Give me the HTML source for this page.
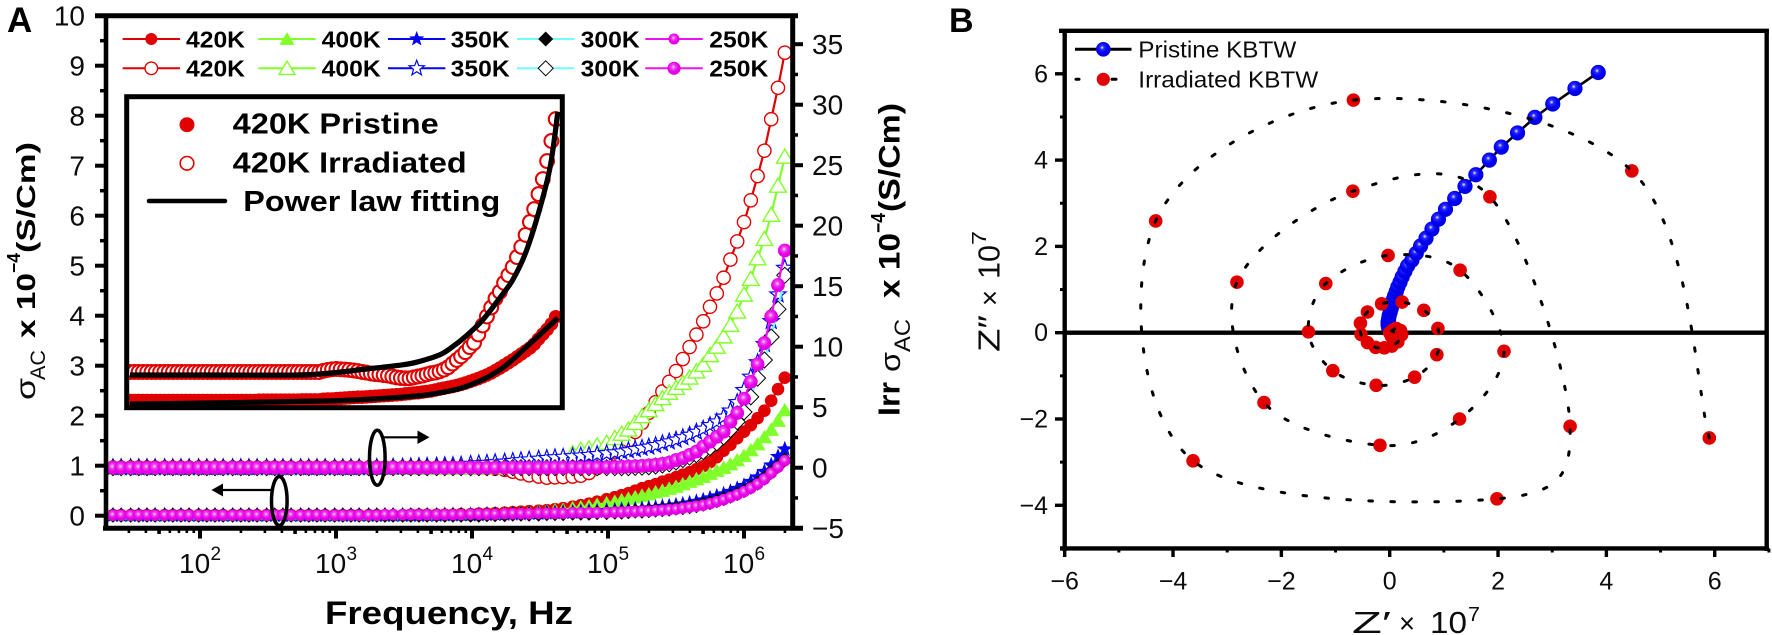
<!DOCTYPE html>
<html lang="en">
<head>
<meta charset="utf-8">
<title>AC conductivity and impedance of pristine and irradiated KBTW</title>
<style>
  html, body { margin: 0; padding: 0; background: #fff; }
  svg { display: block; }
  text { font-family: "Liberation Sans", sans-serif; fill: #0c0c0c; }
  .b { font-weight: 700; fill: #000; }
</style>
</head>
<body>
<svg id="figure" xmlns="http://www.w3.org/2000/svg" width="1772" height="635" viewBox="0 0 1772 635">
  <defs>
    <radialGradient id="sphere-magenta" cx="0.45" cy="0.4" r="0.55">
      <stop offset="0" stop-color="#fbe0fb"/><stop offset="0.3" stop-color="#f040f0"/><stop offset="0.7" stop-color="#e600e6"/><stop offset="1" stop-color="#e000e0"/>
    </radialGradient>
    <radialGradient id="sphere-blue" cx="0.42" cy="0.38" r="0.55">
      <stop offset="0" stop-color="#f0f0ff"/><stop offset="0.25" stop-color="#2a2aff"/><stop offset="0.65" stop-color="#0000f5"/><stop offset="1" stop-color="#0000e0"/>
    </radialGradient>
    <clipPath id="inset-clip"><rect x="127" y="97" width="435" height="310"/></clipPath>
  </defs>
  <rect width="1772" height="635" fill="#fff"/>

  <g id="panel-a">
    <g id="a-series"></g>
    <g id="a-axes"></g>
    <g id="a-legend">
      <text class="b" x="186" y="47.5" font-size="23" textLength="59" lengthAdjust="spacingAndGlyphs">420K</text>
      <text class="b" x="321.7" y="47.5" font-size="23" textLength="59" lengthAdjust="spacingAndGlyphs">400K</text>
      <text class="b" x="450.7" y="47.5" font-size="23" textLength="59" lengthAdjust="spacingAndGlyphs">350K</text>
      <text class="b" x="580.7" y="47.5" font-size="23" textLength="59" lengthAdjust="spacingAndGlyphs">300K</text>
      <text class="b" x="709.3" y="47.5" font-size="23" textLength="59" lengthAdjust="spacingAndGlyphs">250K</text>
      <text class="b" x="186" y="76.5" font-size="23" textLength="59" lengthAdjust="spacingAndGlyphs">420K</text>
      <text class="b" x="321.7" y="76.5" font-size="23" textLength="59" lengthAdjust="spacingAndGlyphs">400K</text>
      <text class="b" x="450.7" y="76.5" font-size="23" textLength="59" lengthAdjust="spacingAndGlyphs">350K</text>
      <text class="b" x="580.7" y="76.5" font-size="23" textLength="59" lengthAdjust="spacingAndGlyphs">300K</text>
      <text class="b" x="709.3" y="76.5" font-size="23" textLength="59" lengthAdjust="spacingAndGlyphs">250K</text>
    </g>

    <g>
      <rect x="127" y="97" width="435" height="310" fill="#fff"/>
      <g id="inset-series" clip-path="url(#inset-clip)"></g>
      <rect x="126.7" y="96.7" width="435.6" height="311" fill="none" stroke="#000" stroke-width="5"/>
      <circle cx="187" cy="124.7" r="7.5" fill="#e00000"/>
      <circle cx="187" cy="163.3" r="6.8" fill="#fff" stroke="#e00000" stroke-width="1.6"/>
      <line x1="149" y1="201" x2="225" y2="201" stroke="#000" stroke-width="4.5" stroke-linecap="round"/>
      <text class="b" x="232.7" y="133.5" font-size="29" textLength="206" lengthAdjust="spacingAndGlyphs">420K Pristine</text>
      <text class="b" x="232.7" y="172.3" font-size="29" textLength="234" lengthAdjust="spacingAndGlyphs">420K Irradiated</text>
      <text class="b" x="243.3" y="211" font-size="29" textLength="257" lengthAdjust="spacingAndGlyphs">Power law fitting</text>
    </g>

    <g>
      <ellipse cx="377.3" cy="457.7" rx="7.8" ry="27.5" fill="none" stroke="#000" stroke-width="3.5"/>
      <line x1="383" y1="437.3" x2="420" y2="437.3" stroke="#000" stroke-width="2.2"/>
      <polygon points="417.5,430.5 429.5,437.3 417.5,444" fill="#000"/>
    </g>
    <g>
      <ellipse cx="279.3" cy="501" rx="7.8" ry="24.5" fill="none" stroke="#000" stroke-width="3.5"/>
      <line x1="271" y1="490" x2="221" y2="490" stroke="#000" stroke-width="2.2"/>
      <polygon points="223,483.5 211.5,490 223,496.5" fill="#000"/>
    </g>

    <text class="b" x="7" y="32" font-size="35">A</text>

    <g>
      <text transform="translate(35,400) rotate(-90)" font-size="28" textLength="22" lengthAdjust="spacingAndGlyphs">σ</text>
      <text transform="translate(45,380) rotate(-90)" font-size="21" textLength="30" lengthAdjust="spacingAndGlyphs">AC</text>
      <text class="b" transform="translate(35,338) rotate(-90)" font-size="26" textLength="65" lengthAdjust="spacingAndGlyphs">x 10</text>
      <text class="b" transform="translate(20,273) rotate(-90)" font-size="18" textLength="20" lengthAdjust="spacingAndGlyphs">−4</text>
      <text class="b" transform="translate(35,253) rotate(-90)" font-size="26" textLength="111" lengthAdjust="spacingAndGlyphs">(S/Cm)</text>
    </g>
    <g>
      <text class="b" transform="translate(899.3,416) rotate(-90)" font-size="31" textLength="34" lengthAdjust="spacingAndGlyphs">Irr</text>
      <text transform="translate(900,372) rotate(-90)" font-size="29" textLength="20" lengthAdjust="spacingAndGlyphs">σ</text>
      <text transform="translate(910,352) rotate(-90)" font-size="22" textLength="33" lengthAdjust="spacingAndGlyphs">AC</text>
      <text class="b" transform="translate(899.3,298) rotate(-90)" font-size="30" textLength="65" lengthAdjust="spacingAndGlyphs">x 10</text>
      <text class="b" transform="translate(885,233) rotate(-90)" font-size="20" textLength="20" lengthAdjust="spacingAndGlyphs">−4</text>
      <text class="b" transform="translate(899.3,212) rotate(-90)" font-size="30" textLength="109" lengthAdjust="spacingAndGlyphs">(S/Cm)</text>
    </g>
    <text class="b" x="325" y="624" font-size="32" textLength="248" lengthAdjust="spacingAndGlyphs">Frequency, Hz</text>
  </g>

  <g id="panel-b">
    <text class="b" x="949" y="32" font-size="34">B</text>
    <g id="b-series"></g>
    <g id="b-axes"></g>
    <g>
      <line x1="1075" y1="49.3" x2="1131.5" y2="49.3" stroke="#000" stroke-width="3"/>
      <circle cx="1103.3" cy="49.3" r="7.3" fill="url(#sphere-blue)"/>
      <text x="1138.3" y="57.5" font-size="23" textLength="158" lengthAdjust="spacingAndGlyphs">Pristine KBTW</text>
      <line x1="1076" y1="79.3" x2="1079" y2="79.3" stroke="#000" stroke-width="3" stroke-linecap="round"/>
      <line x1="1112" y1="79.3" x2="1116" y2="79.3" stroke="#000" stroke-width="3" stroke-linecap="round"/>
      <circle cx="1103.3" cy="79.3" r="6.6" fill="#e00000"/>
      <text x="1138.3" y="87.5" font-size="23" textLength="180" lengthAdjust="spacingAndGlyphs">Irradiated KBTW</text>
    </g>
    <g>
      <text transform="translate(999.5,352) rotate(-90)" font-size="31" textLength="37" lengthAdjust="spacingAndGlyphs">Z″</text>
      <text transform="translate(999.5,306) rotate(-90)" font-size="29" textLength="16" lengthAdjust="spacingAndGlyphs">×</text>
      <text transform="translate(999.5,279) rotate(-90)" font-size="31" textLength="34" lengthAdjust="spacingAndGlyphs">10</text>
      <text transform="translate(986,245) rotate(-90)" font-size="20" textLength="14" lengthAdjust="spacingAndGlyphs">7</text>
    </g>
    <g>
      <text x="1352" y="633" font-size="31" textLength="39" lengthAdjust="spacingAndGlyphs">Z′</text>
      <text x="1399" y="633" font-size="29" textLength="16" lengthAdjust="spacingAndGlyphs">×</text>
      <text x="1430" y="633" font-size="31" textLength="37" lengthAdjust="spacingAndGlyphs">10</text>
      <text x="1468" y="621" font-size="20" textLength="12" lengthAdjust="spacingAndGlyphs">7</text>
    </g>
  </g>
</svg>

<script>
// ---------- Panel A data: frequency (log10 Hz) ----------
const logFreq = [
  1.36,1.42,1.49,1.55,1.61,1.67,1.74,1.80,1.86,1.92,1.99,2.05,2.11,2.17,2.24,2.30,2.36,2.42,2.49,2.55,2.61,
  2.67,2.74,2.80,2.86,2.92,2.99,3.05,3.11,3.17,3.24,3.30,3.36,3.42,3.49,3.55,3.61,3.67,3.74,3.80,3.86,3.92,
  3.99,4.05,4.11,4.17,4.24,4.30,4.36,4.42,4.49,4.55,4.61,4.67,4.74,4.80,4.86,4.92,4.99,
  5.05,5.10,5.15,5.20,5.25,5.30,5.35,5.40,5.45,5.50,5.55,5.60,5.65,5.70,5.75,5.80,5.85,5.90,5.95,6.00,6.05,6.10,6.15,6.20,6.25,6.30
];

// Pristine sigma AC (left axis, x 10^-4 S/Cm)
const pristine420K = [
  .01,.01,.01,.01,.01,.01,.01,.01,.01,.01,.01,.01,.01,.01,.01,.01,.01,.01,.01,.01,.01,
  .01,.01,.01,.01,.01,.01,.01,.01,.01,.01,.01,.01,.01,.01,.02,.02,.02,.02,.02,.02,.03,
  .03,.04,.04,.05,.06,.07,.08,.09,.10,.11,.13,.15,.18,.21,.24,.28,.33,
  .37,.41,.45,.50,.55,.59,.63,.68,.72,.77,.82,.87,.93,.99,1.07,1.17,1.30,1.42,1.55,1.68,1.81,1.95,2.10,2.30,2.53,2.76
];
const pristine400K = [
  .01,.01,.01,.01,.01,.01,.01,.01,.01,.01,.01,.01,.01,.01,.01,.01,.01,.01,.01,.01,.01,
  .01,.01,.01,.01,.01,.01,.01,.01,.01,.01,.01,.01,.01,.01,.01,.01,.02,.02,.02,.02,.02,
  .02,.03,.03,.04,.05,.05,.06,.07,.08,.09,.11,.12,.15,.17,.19,.22,.25,
  .28,.31,.34,.37,.40,.43,.47,.50,.54,.58,.63,.68,.73,.78,.84,.90,.96,1.03,1.11,1.20,1.31,1.43,1.57,1.72,1.90,2.11
];
const pristine350K = [
  .01,.01,.01,.01,.01,.01,.01,.01,.01,.01,.01,.01,.01,.01,.01,.01,.01,.01,.01,.01,.01,
  .01,.01,.01,.01,.01,.01,.01,.01,.01,.01,.01,.01,.01,.01,.01,.01,.01,.01,.02,.02,.02,
  .02,.02,.03,.03,.03,.04,.04,.05,.05,.06,.06,.07,.07,.08,.09,.09,.10,
  .11,.12,.12,.13,.14,.15,.16,.18,.19,.21,.23,.25,.28,.31,.35,.39,.43,.48,.54,.60,.68,.77,.88,1.01,1.18,1.33
];
const pristine300K = [
  .01,.01,.01,.01,.01,.01,.01,.01,.01,.01,.01,.01,.01,.01,.01,.01,.01,.01,.01,.01,.01,
  .01,.01,.01,.01,.01,.01,.01,.01,.01,.01,.01,.01,.01,.01,.01,.01,.01,.01,.01,.01,.01,
  .01,.01,.02,.02,.02,.03,.03,.03,.03,.04,.04,.04,.05,.05,.05,.06,.06,
  .07,.07,.08,.09,.09,.10,.11,.12,.13,.15,.16,.18,.20,.23,.26,.30,.34,.39,.44,.50,.57,.65,.75,.87,.99,1.12
];
const pristine250K = [
  .01,.01,.01,.01,.01,.01,.01,.01,.01,.01,.01,.01,.01,.01,.01,.01,.01,.01,.01,.01,.01,
  .01,.01,.01,.01,.01,.01,.01,.01,.01,.01,.01,.02,.02,.02,.02,.02,.02,.02,.02,.02,.02,
  .03,.03,.03,.03,.04,.04,.04,.04,.05,.05,.05,.05,.06,.06,.06,.06,.06,
  .07,.07,.08,.08,.09,.09,.10,.11,.12,.13,.15,.17,.19,.21,.24,.28,.32,.37,.42,.48,.55,.63,.73,.85,.97,1.10
];

// Irradiated sigma AC (right axis, x 10^-4 S/Cm)
const irradiated420K = [
  0,0,0,0,0,0,0,0,0,0,0,0,0,0,0,0,0,0,0,0,0,
  0,0,0,0,0,0,0,0,0,0,0,0,0,0,0,0,0,0,0,0,0,
  0,-.02,-.03,-.08,-.18,-.33,-.48,-.63,-.73,-.83,-.80,-.78,-.73,-.66,-.43,-.03,.91,
  1.33,1.85,2.25,2.95,3.69,4.53,5.42,6.3,7.1,7.99,8.98,9.97,11.0,12.1,13.3,14.4,15.7,17.2,18.7,20.3,22.1,24.1,26.2,28.8,31.4,34.3
];
const irradiated400K = [
  0,0,0,0,0,0,0,0,0,0,0,0,0,0,0,0,0,0,0,0,0,
  0,0,0,0,0,0,0,0,0,0,0,0,0,0,0,0,0,0,0,0,0,
  0,0,0,.02,.05,.08,.1,.12,.27,.42,.62,.82,1.2,1.47,1.6,1.85,2.05,
  2.45,2.8,3.15,3.7,4.25,4.75,5.25,5.75,6.2,6.6,7.0,7.45,7.95,8.5,9.3,10.0,10.85,11.8,12.9,14.3,15.6,17.3,18.9,20.9,23.3,25.7
];
const irradiated350K = [
  .02,.02,.02,.02,.02,.02,.02,.02,.02,.02,.02,.02,.02,.02,.02,.02,.02,.02,.02,.02,.02,
  .02,.02,.02,.02,.02,.02,.02,.02,.02,.03,.04,.05,.06,.07,.09,.11,.13,.15,.18,.2,.23,
  .3,.34,.38,.43,.48,.54,.6,.66,.72,.78,.84,.88,.93,.98,1.03,1.1,1.18,
  1.25,1.32,1.42,1.52,1.62,1.72,1.85,2.0,2.15,2.3,2.5,2.7,2.95,3.2,3.5,3.8,4.2,4.7,5.4,6.4,7.5,8.7,10.2,12.1,14.3,16.5
];
const irradiated300K = [
  0,0,0,0,0,0,0,0,0,0,0,0,0,0,0,0,0,0,0,0,0,
  0,0,0,0,0,0,0,0,0,0,0,0,0,0,0,0,0,0,0,0,0,
  0,0,0,0,0,0,0,0,0,0,0,0,0,0,0,0,0,
  0,0,0,.02,.04,.08,.14,.22,.32,.47,.67,.87,1.07,1.33,1.66,2.05,2.55,3.15,3.8,4.6,5.85,7.4,8.9,10.8,13.1,15.9
];
const irradiated250K = [
  0,0,0,0,0,0,0,0,0,0,0,0,0,0,0,0,0,0,0,0,0,
  0,0,0,0,0,0,0,0,0,0,0,0,0,0,0,0,0,0,0,0,0,
  0,0,0,0,0,0,0,0,0,0,.01,.01,.02,.02,.03,.04,.05,
  .06,.08,.1,.12,.15,.19,.24,.31,.42,.63,.79,1.06,1.33,1.75,2.15,2.55,2.97,3.8,4.52,5.7,7.1,8.55,10.3,12.5,15.1,17.95
];

// Inset: 420 K conductivity by sample index (arbitrary inset units)
const insetPristine = [
  .15,.15,.15,.15,.15,.15,.15,.15,.15,.15,.15,.15,.15,.15,.15,.15,.15,.15,.15,.15,.15,.15,.15,.15,.15,.15,.15,.15,.15,.15,
  .16,.16,.16,.16,.16,.16,.16,.16,.16,.16,.17,.17,.17,.17,.17,.19,.2,.2,
  .21,.22,.23,.24,.25,.26,.26,.27,.28,.29,.3,.31,.32,.33,.34,.35,
  .37,.38,.4,.41,.43,.45,.47,.5,.53,.56,.59,.62,.65,.69,.73,
  .78,.83,.88,.94,1.0,1.07,1.15,1.23,1.32,1.41,1.5,1.6,1.7,1.8,1.9,2.03,2.2,2.36,2.52,2.7,2.94
];
const insetIrradiated = [
  1.1,1.1,1.1,1.1,1.1,1.1,1.1,1.1,1.1,1.1,1.1,1.1,1.1,1.1,1.1,1.1,1.1,1.1,1.1,1.1,1.1,1.1,1.1,1.1,1.1,1.1,1.1,1.1,1.1,1.1,
  1.1,1.1,1.1,1.1,1.1,1.1,1.1,1.1,1.1,1.1,1.1,1.1,1.1,1.1,1.1,1.14,1.17,1.19,
  1.2,1.19,1.18,1.17,1.15,1.13,1.1,1.08,1.05,1.03,1.02,1.0,.98,.95,.92,.9,.89,
  .89,.92,.95,.98,1.02,1.06,1.08,1.12,1.18,1.26,1.38,1.5,1.62,1.76,1.93,
  2.07,2.35,2.65,2.95,3.25,3.55,3.77,4.07,4.33,4.6,4.93,5.27,5.67,6.1,6.53,7.03,7.53,8.13,8.8,9.53
];
const fitIrradiatedIndex = [0,20,39,47,55,63,67,72,75,78,82,86,89,92,95,97.7,99.5];
const fitIrradiatedValues = [1.0,1.0,1.0,1.07,1.2,1.33,1.44,1.67,1.94,2.28,2.83,3.57,4.17,5.07,6.4,7.93,9.77];
const fitPristineIndex = [0,20,39,47,55,63,70.5,78,86,93.5,99.5];
const fitPristineValues = [.03,.07,.12,.14,.19,.26,.37,.61,1.17,2.11,2.9];

// Panel A tick labels
const leftTicks = [0,1,2,3,4,5,6,7,8,9,10];
const rightTicks = [35,30,25,20,15,10,5,0,-5];
const freqDecades = [2,3,4,5,6];

// ---------- Panel B data (x 10^7 ohm) ----------
const pristineZr = [3.85,3.42,3.01,2.68,2.36,2.06,1.84,1.59,1.39,1.2,1.03,.9,.78,.67,.57,.49,.41,.33,.28,.23,.19,.15,.12,.09,.06,.04,.03,.01,-.01,-.02,-.03,-.03,-.02];
const pristineZi = [6.03,5.66,5.3,4.99,4.63,4.3,4.0,3.66,3.39,3.11,2.86,2.63,2.4,2.19,2.01,1.84,1.68,1.55,1.42,1.29,1.17,1.06,.95,.85,.75,.66,.57,.48,.4,.32,.25,.18,.12];
const irradiatedZr = [5.9,4.47,-.67,-4.32,-3.63,1.98,3.33,1.85,-.68,-2.82,-2.32,-.18,1.29,2.11,1.3,-.03,-1.18,-1.5,-1.05,-.25,.46,.87,.89,.63,.23,-.15,-.41,-.54,-.53,-.41,-.26,-.1,.04,.15,.22,.2,.12,.06,0,.03,.1,.12,.1,.07];
const irradiatedZi = [-2.44,3.75,5.39,2.59,-2.97,-3.85,-2.17,3.15,3.28,1.17,-1.62,-2.61,-2.0,-.43,1.45,1.79,1.14,.02,-.88,-1.22,-1.03,-.51,.1,.52,.71,.67,.48,.22,-.04,-.23,-.34,-.35,-.31,-.21,-.05,.05,.1,.06,0,-.08,-.08,-.02,.05,.02];
const nyquistXTicks = [-6,-4,-2,0,2,4,6];
const nyquistYTicks = [6,4,2,0,-2,-4];

// ---------- Scales ----------
const xFreq = l => 200 + (l - 2) * 136;
const yLeft = v => 515.7 - 50 * v;
const yRight = v => 467.7 - 12.1 * v;
const xInset = i => 130 + i * 4.3;
const yInset = v => 405 - 30 * v;
const xNyq = v => 1389.7 + 54.17 * v;
const yNyq = v => 332.7 - 43.15 * v;

// ---------- Helpers ----------
const NS = 'http://www.w3.org/2000/svg';
function mk(tag, attrs, parent) {
  const el = document.createElementNS(NS, tag);
  for (const k in attrs) el.setAttribute(k, attrs[k]);
  if (parent) parent.appendChild(el);
  return el;
}
function markerShape(kind, x, y, r, fill, stroke, sw, parent) {
  let el;
  const st = { fill: fill, stroke: stroke || 'none', 'stroke-width': sw || 0 };
  if (kind === 'circle') {
    el = mk('circle', Object.assign({ cx: x, cy: y, r: r }, st), parent);
  } else if (kind === 'triangle') {
    const pts = [[x, y - r], [x + r * 1.1, y + r * 0.85], [x - r * 1.1, y + r * 0.85]];
    el = mk('polygon', Object.assign({ points: pts.join(' ') }, st), parent);
  } else if (kind === 'diamond') {
    const pts = [[x, y - r], [x + r, y], [x, y + r], [x - r, y]];
    el = mk('polygon', Object.assign({ points: pts.join(' ') }, st), parent);
  } else {
    const pts = [];
    for (let k = 0; k < 10; k++) {
      const a = -Math.PI / 2 + k * Math.PI / 5, q = k % 2 ? r * 0.42 : r;
      pts.push([x + q * Math.cos(a), y + q * Math.sin(a)]);
    }
    el = mk('polygon', Object.assign({ points: pts.join(' ') }, st), parent);
  }
  
  
  return el;
}
function polyline(points, color, width, parent) {
  const el = mk('polyline', { points: points.map(p => p.join(',')).join(' '), fill: 'none', stroke: color, 'stroke-width': width, 'stroke-linejoin': 'round' }, parent);
  
  
  return el;
}
function splinePath(p) {
  let d = 'M' + p[0][0] + ' ' + p[0][1];
  for (let i = 0; i < p.length - 1; i++) {
    const a = p[Math.max(i - 1, 0)], b = p[i], c = p[i + 1], e = p[Math.min(i + 2, p.length - 1)];
    d += ' C' + (b[0] + (c[0] - a[0]) / 6) + ' ' + (b[1] + (c[1] - a[1]) / 6) + ' ' +
         (c[0] - (e[0] - b[0]) / 6) + ' ' + (c[1] - (e[1] - b[1]) / 6) + ' ' + c[0] + ' ' + c[1];
  }
  return d;
}
function axisLine(x1, y1, x2, y2, w, parent, name) {
  const el = mk('line', { x1: x1, y1: y1, x2: x2, y2: y2, stroke: '#000', 'stroke-width': w }, parent);
  
  
  return el;
}
function label(txt, x, y, size, anchor, parent, name) {
  const el = mk('text', { x: x, y: y, 'font-size': size, 'text-anchor': anchor }, parent);
  el.textContent = txt;
  
  
  return el;
}

// ---------- Panel A series ----------
const RED = '#e00000', GREEN = '#80ff2a', BLUE = '#0505f5', CYAN = '#70ffff', MAG = '#ee10ee';
const pristineStyle = [
  { values: pristine420K, line: RED, kind: 'circle', r: 6.3, fill: RED },
  { values: pristine400K, line: GREEN, kind: 'triangle', r: 7.3, fill: GREEN },
  { values: pristine350K, line: BLUE, kind: 'star', r: 8.5, fill: BLUE },
  { values: pristine300K, line: CYAN, kind: 'diamond', r: 7.6, fill: '#000' },
  { values: pristine250K, line: MAG, kind: 'circle', r: 5.8, fill: 'url(#sphere-magenta)' }
];
const irradiatedStyle = [
  { values: irradiated420K, line: RED, kind: 'circle', r: 6.6, fill: '#fff', stroke: RED, sw: 1.4 },
  { values: irradiated400K, line: GREEN, kind: 'triangle', r: 7.6, fill: '#fff', stroke: GREEN, sw: 1.4 },
  { values: irradiated350K, line: BLUE, kind: 'star', r: 8.5, fill: '#fff', stroke: BLUE, sw: 1.2 },
  { values: irradiated300K, line: CYAN, kind: 'diamond', r: 8, fill: '#fff', stroke: '#000', sw: 1 },
  { values: irradiated250K, line: MAG, kind: 'circle', r: 6.9, fill: 'url(#sphere-magenta)' }
];
const aSeries = document.getElementById('a-series');
function drawSeries(style, yScale, nameBase) {
  style.forEach(function (s) {
    const g = mk('g', {}, aSeries);
    
    
    const pts = s.values.map((v, i) => [xFreq(logFreq[i]), yScale(v)]);
    polyline(pts, s.line, 2.2, g);
    pts.forEach(p => markerShape(s.kind, p[0], p[1], s.r, s.fill, s.stroke, s.sw, g));
  });
}
drawSeries(pristineStyle, yLeft, 'pristine-series');
drawSeries(irradiatedStyle, yRight, 'irradiated-series');

// ---------- Panel A legend samples ----------
const legendCenters = [151.3, 287, 416.7, 545.7, 674];
const aLegend = document.getElementById('a-legend');
function drawLegendRow(style, y) {
  style.forEach(function (s, i) {
    const cx = legendCenters[i];
    const ln = mk('line', { x1: cx - 28.7, y1: y, x2: cx + 28.7, y2: y, stroke: s.line, 'stroke-width': 2 }, aLegend);
    
    
    markerShape(s.kind, cx, y, s.kind === 'diamond' ? 7.5 : s.r * 0.95, s.fill, s.stroke, s.sw, aLegend);
  });
}
drawLegendRow(pristineStyle, 39);
drawLegendRow(irradiatedStyle, 68.3);

// ---------- Inset ----------
const insetG = document.getElementById('inset-series');
insetIrradiated.forEach(function (v, i) {
  markerShape('circle', xInset(i), yInset(v), 6.9, '#fff', RED, 2.1, insetG);
});
insetPristine.forEach(function (v, i) {
  markerShape('circle', xInset(i), yInset(v), 6.8, RED, null, 0, insetG);
});
function drawFit(idx, vals) {
  const pts = idx.map((k, i) => [xInset(k), yInset(vals[i])]);
  const el = mk('path', { d: splinePath(pts), fill: 'none', stroke: '#000', 'stroke-width': 5.2 }, insetG);
  
  
}
drawFit(fitIrradiatedIndex, fitIrradiatedValues);
drawFit(fitPristineIndex, fitPristineValues);

// ---------- Panel A axes ----------
const aAxes = document.getElementById('a-axes');
axisLine(95, 15.7, 798, 15.7, 5, aAxes, 'top-spine');
axisLine(106, 13.5, 106, 530.5, 4.6, aAxes, 'left-spine');
axisLine(792.7, 13.5, 792.7, 530.5, 5, aAxes, 'right-spine');
axisLine(103, 528.3, 803, 528.3, 5, aAxes, 'bottom-spine');
leftTicks.forEach(function (v) {
  axisLine(95, yLeft(v), 106, yLeft(v), 4, aAxes, 'left-major-tick');
  label(String(v), 85, yLeft(v) + 10, 28, 'end', aAxes, 'left-tick-label');
  if (v < 10) axisLine(100, yLeft(v + 0.5), 106, yLeft(v + 0.5), 3.5, aAxes, 'left-minor-tick');
});
rightTicks.forEach(function (v) {
  axisLine(792.7, yRight(v), 803, yRight(v), 4, aAxes, 'right-major-tick');
  label(String(v).replace('-', '−'), 812, yRight(v) + 9.8, 28, 'start', aAxes, 'right-tick-label');
  if (v > -5) axisLine(792.7, yRight(v - 2.5), 798, yRight(v - 2.5), 3.5, aAxes, 'right-minor-tick');
});
freqDecades.forEach(function (d) {
  const x = xFreq(d);
  axisLine(x, 528.3, x, 538.5, 4, aAxes, 'x-major-tick');
  label('10', x - 21, 573, 28, 'start', aAxes, 'x-tick-label');
  label(String(d), x + 10.5, 560, 19, 'start', aAxes, 'x-tick-exponent');
});
[1, 2, 3, 4, 5, 6].forEach(function (d) {
  [2, 3, 4, 5, 6, 7, 8, 9].forEach(function (m) {
    const x = xFreq(d + Math.log10(m));
    if (x > 105 && x < 793) axisLine(x, 528.3, x, m === 5 ? 534 : 533, m === 5 ? 3.6 : 2.6, aAxes, 'x-minor-tick');
  });
});

// ---------- Panel B series ----------
const bSeries = document.getElementById('b-series');
const zeroLine = axisLine(1064.7, yNyq(0), 1767, yNyq(0), 4.4, bSeries, 'zero-reference-line');
const pristinePts = pristineZr.map((v, i) => [xNyq(v), yNyq(pristineZi[i])]);
polyline(pristinePts, '#000', 2.6, bSeries);
pristinePts.slice().reverse().forEach(p => markerShape('circle', p[0], p[1], 7.6, 'url(#sphere-blue)', null, 0, bSeries));
const irradiatedPts = irradiatedZr.map((v, i) => [xNyq(v), yNyq(irradiatedZi[i])]);
irradiatedPts.forEach(p => markerShape('circle', p[0], p[1], 6.8, RED, null, 0, bSeries));
const spiral = mk('path', { d: splinePath(irradiatedPts), fill: 'none', stroke: '#000', 'stroke-width': 3, 'stroke-dasharray': '3.5 18.5', 'stroke-linecap': 'round' }, bSeries);



// ---------- Panel B axes ----------
const bAxes = document.getElementById('b-axes');
axisLine(1059, 30.8, 1769, 30.8, 4.4, bAxes, 'nyquist-top-spine');
axisLine(1064.7, 29, 1064.7, 551, 4.4, bAxes, 'nyquist-left-spine');
axisLine(1766.7, 29, 1766.7, 551, 4.4, bAxes, 'nyquist-right-spine');
axisLine(1060, 548.4, 1769, 548.4, 4.4, bAxes, 'nyquist-bottom-spine');
nyquistXTicks.forEach(function (v) {
  axisLine(xNyq(v), 548.4, xNyq(v), 557, 3.4, bAxes, 'nyquist-x-major-tick');
  label(String(v).replace('-', '−'), xNyq(v), 589.5, 25, 'middle', bAxes, 'nyquist-x-tick-label');
  axisLine(xNyq(v + 1), 548.4, xNyq(v + 1), 552.5, 3, bAxes, 'nyquist-x-minor-tick');
});
nyquistYTicks.forEach(function (v) {
  axisLine(1055, yNyq(v), 1064.7, yNyq(v), 3.4, bAxes, 'nyquist-y-major-tick');
  label(String(v).replace('-', '−'), 1048, yNyq(v) + 8.5, 25, 'end', bAxes, 'nyquist-y-tick-label');
  axisLine(1060, yNyq(v - 1), 1064.7, yNyq(v - 1), 3, bAxes, 'nyquist-y-minor-tick');
});
</script>
</body>
</html>
